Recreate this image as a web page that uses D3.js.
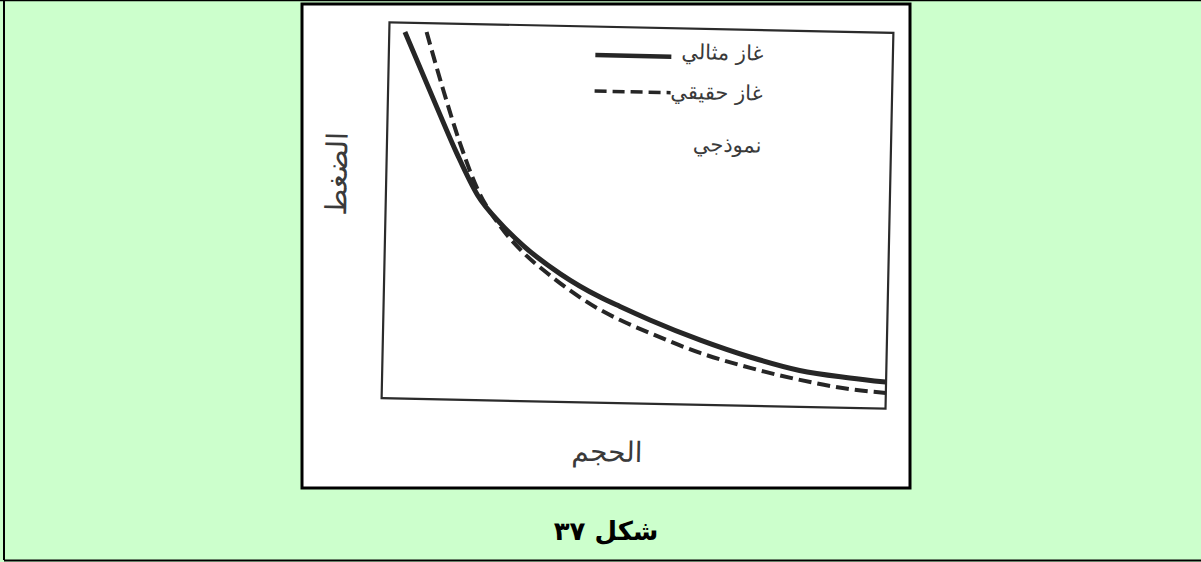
<!DOCTYPE html>
<html>
<head>
<meta charset="utf-8">
<script src="https://cdn.jsdelivr.net/npm/d3@7"></script>
<style>
  html, body { margin: 0; padding: 0; background: #ccffcc; }
  svg { display: block; }
</style>
</head>
<body>
<svg id="chart" width="1201" height="562"></svg>
<script>
// Ideal gas isotherm (solid) – volume / pressure readings
const volumeIdeal   = [0.31, 0.98, 1.39, 1.82, 2.28, 2.75, 3.50, 4.29, 4.69, 5.29, 6.30, 7.29, 8.28, 9.28, 9.99];
const pressureIdeal = [9.75, 7.75, 6.55, 5.45, 4.72, 4.13, 3.40, 2.81, 2.57, 2.23, 1.72, 1.30, 0.97, 0.80, 0.71];

// Real gas isotherm (dashed)
const volumeReal    = [0.74, 1.09, 1.45, 1.82, 2.28, 2.75, 3.23, 4.30, 4.70, 5.30, 6.30, 7.30, 8.29, 9.29, 10.0];
const pressureReal  = [9.76, 8.25, 6.82, 5.60, 4.64, 3.95, 3.42, 2.47, 2.21, 1.88, 1.38, 1.01, 0.72, 0.50, 0.42];

const legendLabels = ["غاز مثالي", "غاز حقيقي", "نموذجي"];
const xAxisTitle = "الحجم";
const yAxisTitle = "الضغط";
const figureCaption = "شكل ٣٧";

const svg = d3.select("#chart");
const W = 1201, H = 562;

svg.append("rect").attr("width", W).attr("height", H).attr("fill", "#ccffcc");

// page frame lines
svg.append("line").attr("x1", 0).attr("x2", W).attr("y1", 0.5).attr("y2", 0.5)
  .attr("stroke", "#000").attr("stroke-width", 1.5);
svg.append("line").attr("x1", 4).attr("x2", 4).attr("y1", 0).attr("y2", 560)
  .attr("stroke", "#000").attr("stroke-width", 2);
svg.append("line").attr("x1", 4).attr("x2", W).attr("y1", 560.5).attr("y2", 560.5)
  .attr("stroke", "#000").attr("stroke-width", 2);

// figure panel
svg.append("rect").attr("x", 302).attr("y", 4).attr("width", 608).attr("height", 484)
  .attr("fill", "#fff").attr("stroke", "#000").attr("stroke-width", 3);

// plot area (the printed figure sits slightly tilted)
const plotL = 385.5, plotR = 889.5, plotT = 27.5, plotB = 403.5;
const g = svg.append("g").attr("transform", "rotate(1.2, 637.5, 215.5)");

const x = d3.scaleLinear().domain([0, 10]).range([plotL, plotR]);
const y = d3.scaleLinear().domain([0, 10]).range([plotB, plotT]);

g.append("rect").attr("x", plotL).attr("y", plotT)
  .attr("width", plotR - plotL).attr("height", plotB - plotT)
  .attr("fill", "none").attr("stroke", "#2b2b2b").attr("stroke-width", 2.2);

const line = d3.line().x(d => x(d[0])).y(d => y(d[1])).curve(d3.curveMonotoneX);

const ideal = volumeIdeal.map((v, i) => [v, pressureIdeal[i]]);
const real = volumeReal.map((v, i) => [v, pressureReal[i]]);

g.append("path").datum(real).attr("d", line)
  .attr("fill", "none").attr("stroke", "#262626").attr("stroke-width", 4)
  .attr("stroke-dasharray", "13,6");
g.append("path").datum(ideal).attr("d", line)
  .attr("fill", "none").attr("stroke", "#262626").attr("stroke-width", 5);

// legend: sample line on the left, label on the right
const fontAr = "'DejaVu Sans', sans-serif";
g.append("line").attr("x1", 592).attr("x2", 668).attr("y1", 56).attr("y2", 56)
  .attr("stroke", "#262626").attr("stroke-width", 4.5);
g.append("line").attr("x1", 592).attr("x2", 668).attr("y1", 92).attr("y2", 92)
  .attr("stroke", "#262626").attr("stroke-width", 3.5).attr("stroke-dasharray", "12,6");

const legendY = [58, 98, 150];
g.selectAll("text.legend").data(legendLabels).enter().append("text")
  .attr("class", "legend")
  .attr("x", 760)
  .attr("y", (d, i) => legendY[i])
  .attr("text-anchor", "end")
  .attr("font-family", fontAr).attr("font-size", 21).attr("fill", "#3a3a3a")
  .text(d => d);

// axis titles
g.append("text").attr("x", 612).attr("y", 462).attr("text-anchor", "middle")
  .attr("font-family", fontAr).attr("font-size", 28).attr("fill", "#3a3a3a")
  .text(xAxisTitle);
g.append("text").attr("transform", "translate(346,180) rotate(-90)")
  .attr("text-anchor", "middle")
  .attr("font-family", fontAr).attr("font-size", 29).attr("fill", "#3a3a3a")
  .text(yAxisTitle);

// caption
svg.append("text").attr("x", 606).attr("y", 540).attr("text-anchor", "middle")
  .attr("font-family", "'DejaVu Sans', sans-serif").attr("font-weight", "bold")
  .attr("font-size", 26).attr("fill", "#000")
  .text(figureCaption);
</script>
</body>
</html>
